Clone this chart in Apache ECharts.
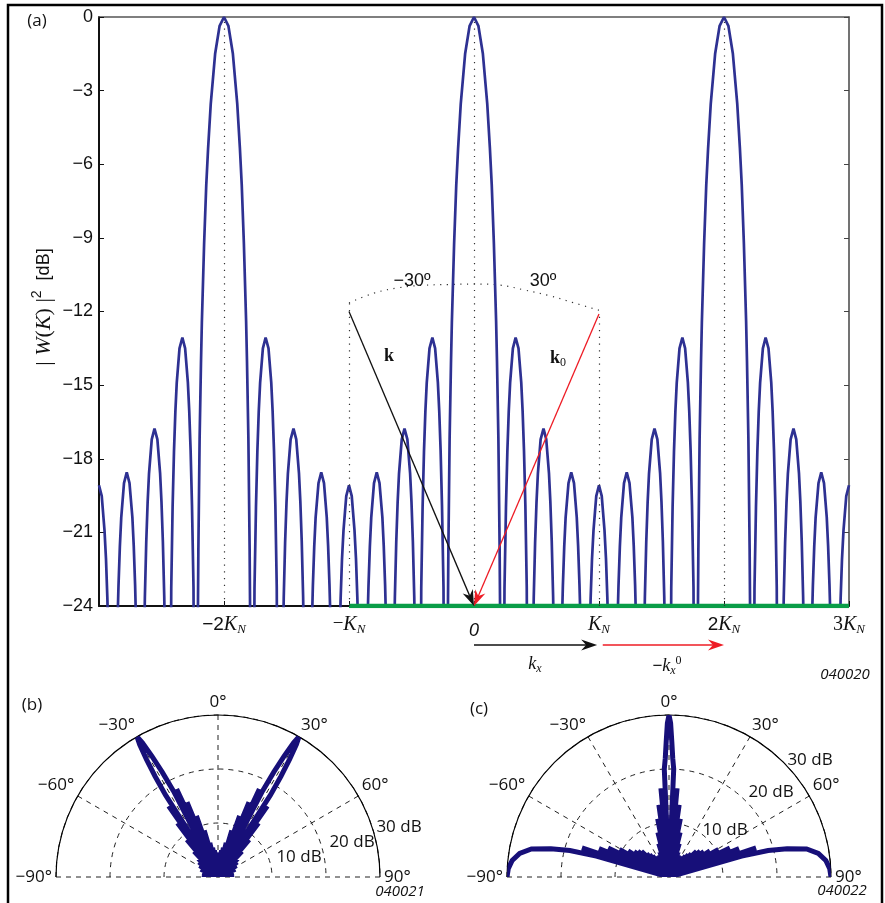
<!DOCTYPE html>
<html>
<head>
<meta charset="utf-8">
<script src="https://cdn.jsdelivr.net/npm/echarts@6/dist/echarts.min.js"></script>
<style>html,body{margin:0;padding:0;background:#fff}#c{width:885px;height:903px}</style>
</head>
<body>
<div id="c"></div>
<script>
// ---------- data ----------
// Panel (a): |W(K)|^2 in dB versus K (units of K_N); nulls listed deep, axis clips at -24 dB
const patternA = [
[-3.000,-19.08],[-2.978,-19.52],[-2.956,-20.92],[-2.944,-22.09],[-2.933,-23.70],[-2.922,-25.94],[-2.911,-29.28],[-2.889,-45],
[-2.867,-28.75],[-2.856,-25.41],[-2.844,-23.17],[-2.833,-21.56],[-2.822,-20.39],[-2.800,-18.99],[-2.778,-18.55],[-2.756,-18.99],[-2.733,-20.39],[-2.722,-21.56],[-2.711,-23.17],[-2.700,-25.41],[-2.689,-28.75],[-2.667,-45],
[-2.644,-26.97],[-2.633,-23.63],[-2.622,-21.39],[-2.611,-19.78],[-2.600,-18.61],[-2.578,-17.21],[-2.556,-16.77],[-2.533,-17.21],[-2.511,-18.61],[-2.500,-19.78],[-2.489,-21.39],[-2.478,-23.63],[-2.467,-26.97],[-2.444,-45],
[-2.422,-23.26],[-2.411,-19.92],[-2.400,-17.68],[-2.389,-16.07],[-2.378,-14.90],[-2.356,-13.50],[-2.333,-13.06],[-2.311,-13.50],[-2.289,-14.90],[-2.278,-16.07],[-2.267,-17.68],[-2.256,-19.92],[-2.244,-23.26],[-2.222,-45],
[-2.212,-26.5],[-2.205,-21.67],[-2.195,-17.15],[-2.184,-14.05],[-2.177,-12.42],[-2.159,-9.22],[-2.142,-6.85],[-2.127,-5.33],[-2.106,-3.54],[-2.071,-1.50],[-2.035,-0.36],[-2.000,0],[-1.965,-0.36],[-1.929,-1.50],[-1.894,-3.54],[-1.873,-5.33],[-1.858,-6.85],[-1.841,-9.22],[-1.823,-12.42],[-1.816,-14.05],[-1.805,-17.15],[-1.795,-21.67],[-1.788,-26.5],[-1.778,-45],
[-1.756,-23.26],[-1.744,-19.92],[-1.733,-17.68],[-1.722,-16.07],[-1.711,-14.90],[-1.689,-13.50],[-1.667,-13.06],[-1.644,-13.50],[-1.622,-14.90],[-1.611,-16.07],[-1.600,-17.68],[-1.589,-19.92],[-1.578,-23.26],[-1.556,-45],
[-1.533,-26.97],[-1.522,-23.63],[-1.511,-21.39],[-1.500,-19.78],[-1.489,-18.61],[-1.467,-17.21],[-1.444,-16.77],[-1.422,-17.21],[-1.400,-18.61],[-1.389,-19.78],[-1.378,-21.39],[-1.367,-23.63],[-1.356,-26.97],[-1.333,-45],
[-1.311,-28.75],[-1.300,-25.41],[-1.289,-23.17],[-1.278,-21.56],[-1.267,-20.39],[-1.244,-18.99],[-1.222,-18.55],[-1.200,-18.99],[-1.178,-20.39],[-1.167,-21.56],[-1.156,-23.17],[-1.144,-25.41],[-1.133,-28.75],[-1.111,-45],
[-1.089,-29.28],[-1.078,-25.94],[-1.067,-23.70],[-1.056,-22.09],[-1.044,-20.92],[-1.022,-19.52],[-1.000,-19.08],[-0.978,-19.52],[-0.956,-20.92],[-0.944,-22.09],[-0.933,-23.70],[-0.922,-25.94],[-0.911,-29.28],[-0.889,-45],
[-0.867,-28.75],[-0.856,-25.41],[-0.844,-23.17],[-0.833,-21.56],[-0.822,-20.39],[-0.800,-18.99],[-0.778,-18.55],[-0.756,-18.99],[-0.733,-20.39],[-0.722,-21.56],[-0.711,-23.17],[-0.700,-25.41],[-0.689,-28.75],[-0.667,-45],
[-0.644,-26.97],[-0.633,-23.63],[-0.622,-21.39],[-0.611,-19.78],[-0.600,-18.61],[-0.578,-17.21],[-0.556,-16.77],[-0.533,-17.21],[-0.511,-18.61],[-0.500,-19.78],[-0.489,-21.39],[-0.478,-23.63],[-0.467,-26.97],[-0.444,-45],
[-0.422,-23.26],[-0.411,-19.92],[-0.400,-17.68],[-0.389,-16.07],[-0.378,-14.90],[-0.356,-13.50],[-0.333,-13.06],[-0.311,-13.50],[-0.289,-14.90],[-0.278,-16.07],[-0.267,-17.68],[-0.256,-19.92],[-0.244,-23.26],[-0.222,-45],
[-0.212,-26.5],[-0.205,-21.67],[-0.195,-17.15],[-0.184,-14.05],[-0.177,-12.42],[-0.159,-9.22],[-0.142,-6.85],[-0.127,-5.33],[-0.106,-3.54],[-0.071,-1.50],[-0.035,-0.36],[0,0],[0.035,-0.36],[0.071,-1.50],[0.106,-3.54],[0.127,-5.33],[0.142,-6.85],[0.159,-9.22],[0.177,-12.42],[0.184,-14.05],[0.195,-17.15],[0.205,-21.67],[0.212,-26.5],[0.222,-45],
[0.244,-23.26],[0.256,-19.92],[0.267,-17.68],[0.278,-16.07],[0.289,-14.90],[0.311,-13.50],[0.333,-13.06],[0.356,-13.50],[0.378,-14.90],[0.389,-16.07],[0.400,-17.68],[0.411,-19.92],[0.422,-23.26],[0.444,-45],
[0.467,-26.97],[0.478,-23.63],[0.489,-21.39],[0.500,-19.78],[0.511,-18.61],[0.533,-17.21],[0.556,-16.77],[0.578,-17.21],[0.600,-18.61],[0.611,-19.78],[0.622,-21.39],[0.633,-23.63],[0.644,-26.97],[0.667,-45],
[0.689,-28.75],[0.700,-25.41],[0.711,-23.17],[0.722,-21.56],[0.733,-20.39],[0.756,-18.99],[0.778,-18.55],[0.800,-18.99],[0.822,-20.39],[0.833,-21.56],[0.844,-23.17],[0.856,-25.41],[0.867,-28.75],[0.889,-45],
[0.911,-29.28],[0.922,-25.94],[0.933,-23.70],[0.944,-22.09],[0.956,-20.92],[0.978,-19.52],[1.000,-19.08],[1.022,-19.52],[1.044,-20.92],[1.056,-22.09],[1.067,-23.70],[1.078,-25.94],[1.089,-29.28],[1.111,-45],
[1.133,-28.75],[1.144,-25.41],[1.156,-23.17],[1.167,-21.56],[1.178,-20.39],[1.200,-18.99],[1.222,-18.55],[1.244,-18.99],[1.267,-20.39],[1.278,-21.56],[1.289,-23.17],[1.300,-25.41],[1.311,-28.75],[1.333,-45],
[1.356,-26.97],[1.367,-23.63],[1.378,-21.39],[1.389,-19.78],[1.400,-18.61],[1.422,-17.21],[1.444,-16.77],[1.467,-17.21],[1.489,-18.61],[1.500,-19.78],[1.511,-21.39],[1.522,-23.63],[1.533,-26.97],[1.556,-45],
[1.578,-23.26],[1.589,-19.92],[1.600,-17.68],[1.611,-16.07],[1.622,-14.90],[1.644,-13.50],[1.667,-13.06],[1.689,-13.50],[1.711,-14.90],[1.722,-16.07],[1.733,-17.68],[1.744,-19.92],[1.756,-23.26],[1.778,-45],
[1.788,-26.5],[1.795,-21.67],[1.805,-17.15],[1.816,-14.05],[1.823,-12.42],[1.841,-9.22],[1.858,-6.85],[1.873,-5.33],[1.894,-3.54],[1.929,-1.50],[1.965,-0.36],[2.000,0],[2.035,-0.36],[2.071,-1.50],[2.106,-3.54],[2.127,-5.33],[2.142,-6.85],[2.159,-9.22],[2.177,-12.42],[2.184,-14.05],[2.195,-17.15],[2.205,-21.67],[2.212,-26.5],[2.222,-45],
[2.244,-23.26],[2.256,-19.92],[2.267,-17.68],[2.278,-16.07],[2.289,-14.90],[2.311,-13.50],[2.333,-13.06],[2.356,-13.50],[2.378,-14.90],[2.389,-16.07],[2.400,-17.68],[2.411,-19.92],[2.422,-23.26],[2.444,-45],
[2.467,-26.97],[2.478,-23.63],[2.489,-21.39],[2.500,-19.78],[2.511,-18.61],[2.533,-17.21],[2.556,-16.77],[2.578,-17.21],[2.600,-18.61],[2.611,-19.78],[2.622,-21.39],[2.633,-23.63],[2.644,-26.97],[2.667,-45],
[2.689,-28.75],[2.700,-25.41],[2.711,-23.17],[2.722,-21.56],[2.733,-20.39],[2.756,-18.99],[2.778,-18.55],[2.800,-18.99],[2.822,-20.39],[2.833,-21.56],[2.844,-23.17],[2.856,-25.41],[2.867,-28.75],[2.889,-45],
[2.911,-29.28],[2.922,-25.94],[2.933,-23.70],[2.944,-22.09],[2.956,-20.92],[2.978,-19.52],[3.000,-19.08]
];
const visibleRegion = [[-1,-24],[3,-24]];
const guideFull = [-2, 0, 2];
const guideSide = [[-1,-11.65],[1,-12.1]];
const arcPoints = [[-1,-11.65],[-0.8,-11.25],[-0.6,-11.03],[-0.4,-10.93],[-0.2,-10.9],[0,-10.88],[0.2,-10.92],[0.4,-11.12],[0.6,-11.35],[0.8,-11.65],[1,-11.95]];
const vectorK  = [[-1,-12.0,0,-24]];
const vectorK0 = [[1,-12.1,0,-24]];
const shiftKx  = [[0,0.5,0.985,0.5]];
const shiftK0  = [[1.03,0.5,2.0,0.5]];
const xTickValues = [-3,-2,-1,0,1,2,3];
const xTickLabels = ['', '{n|\u22122}{k|K}{s|N}', '{m|\u2212}{k|K}{s|N}', '{z|0}', '{k|K}{s|N}', '{n|2}{k|K}{s|N}', '{t|3}{k|K}{s|N}'];
const yTickValues = [-24,-21,-18,-15,-12,-9,-6,-3,0];
const yTickLabels = ['\u221224','\u221221','\u221218','\u221215','\u221212','\u22129','\u22126','\u22123','0'];

// Panels (b) and (c): [angle (deg), level above -30 dB (dB)]
const polarB = [
[-90,2.5],[-86,0],[-82,3],[-78,0],[-74,3],[-70,0],[-66,3.5],[-62,0],[-58.5,4],[-55,0],[-52,4.5],[-49.5,0],[-47,5],[-45,0],[-43,6.5],[-41.3,0],[-39.8,9],[-38.3,0],[-36.9,12.5],[-35.6,0],[-34.8,16],[-33.8,0],
[-32.6,18],[-32,22],[-31.3,25.5],[-30.6,28.5],[-30,30],[-29.4,28.5],[-28.7,25.5],[-28,22],[-27.4,18],[-26.2,0],
[-25.2,18],[-24,0],[-22.5,15],[-21,0],[-19.5,12],[-18,0],[-16.5,9],[-15,0],[-13.5,6.5],[-12,0],[-10.5,5.5],[-9,0],[-7.5,5],[-6,0],[-4.5,4.5],[-3,0],[-1.5,4.5],[0,0],
[1.5,4.5],[3,0],[4.5,4.5],[6,0],[7.5,5],[9,0],[10.5,5.5],[12,0],[13.5,6.5],[15,0],[16.5,9],[18,0],[19.5,12],[21,0],[22.5,15],[24,0],[25.2,18],[26.2,0],
[27.4,18],[28,22],[28.7,25.5],[29.4,28.5],[30,30],[30.6,28.5],[31.3,25.5],[32,22],[32.6,18],[33.8,0],
[34.8,16],[35.6,0],[36.9,12.5],[38.3,0],[39.8,9],[41.3,0],[43,6.5],[45,0],[47,5],[49.5,0],[52,4.5],[55,0],[58.5,4],[62,0],[66,3.5],[70,0],[74,3],[78,0],[82,3],[86,0],[90,2.5]
];
const polarC = [
[-90,30],[-87,29.8],[-84,29.2],[-81,28],[-78.5,26],[-76.5,22.5],[-75,19],[-74,14],[-73.2,0],
[-71.5,17],[-70,0],[-68,14],[-66.5,0],[-64.5,12.5],[-63,0],[-61,10.5],[-59.5,0],[-57.5,9],[-56,0],[-54,8],[-52.5,0],[-50.5,7.5],[-49,0],[-47,7],[-45.5,0],[-44,6],[-42.5,0],[-41,5.5],[-39.5,0],[-38,5],[-36.5,0],[-35,4.5],[-33.5,0],[-32,4],[-30.5,0],[-29,4],[-27.5,0],[-26,4],[-24.5,0],[-23,4.5],[-21.5,0],[-20,5],[-18.5,0],[-17,6.5],[-15.5,0],[-14,8.5],[-12.5,0],[-11,11],[-9.5,0],[-8,13.5],[-6.5,0],[-5.2,16.5],[-3.8,0],
[-2.5,20],[-1.8,22],[-1.2,25],[-0.6,28.5],[0,30],[0.6,28.5],[1.2,25],[1.8,22],[2.5,20],[3.8,0],
[5.2,16.5],[6.5,0],[8,13.5],[9.5,0],[11,11],[12.5,0],[14,8.5],[15.5,0],[17,6.5],[18.5,0],[20,5],[21.5,0],[23,4.5],[24.5,0],[26,4],[27.5,0],[29,4],[30.5,0],[32,4],[33.5,0],[35,4.5],[36.5,0],[38,5],[39.5,0],[41,5.5],[42.5,0],[44,6],[45.5,0],[47,7],[49,0],[50.5,7.5],[52.5,0],[54,8],[56,0],[57.5,9],[59.5,0],[61,10.5],[63,0],[64.5,12.5],[66.5,0],[68,14],[70,0],[71.5,17],[73.2,0],
[74,14],[75,19],[76.5,22.5],[78.5,26],[81,28],[84,29.2],[87,29.8],[90,30]
];

// ---------- chart ----------
const SERIF = 'Liberation Serif';
const SANS = 'Liberation Sans';
const HUM = 'Open Sans';
const INK = '#111';

const chart = echarts.init(document.getElementById('c'), null, {renderer: 'canvas', width: 885, height: 903});

function arrowRenderer(color) {
  return function (params, api) {
    const p1 = api.coord([api.value(0), api.value(1)]);
    const p2 = api.coord([api.value(2), api.value(3)]);
    const dx = p2[0] - p1[0], dy = p2[1] - p1[1];
    const len = Math.sqrt(dx * dx + dy * dy);
    const ux = dx / len, uy = dy / len, nx = -uy, ny = ux;
    const L = 16, W = 5.5, notch = 11;
    const back = [p2[0] - ux * L, p2[1] - uy * L];
    const mid = [p2[0] - ux * notch, p2[1] - uy * notch];
    return {
      type: 'group',
      children: [
        {type: 'line', shape: {x1: p1[0], y1: p1[1], x2: mid[0], y2: mid[1]}, style: {stroke: color, lineWidth: 1.3}},
        {type: 'polygon', shape: {points: [p2, [back[0] + nx * W, back[1] + ny * W], mid, [back[0] - nx * W, back[1] - ny * W]]}, style: {fill: color}}
      ]
    };
  };
}

function angleLabel(v) {
  return (v < 0 ? '\u2212' + (-v) : '' + v) + '\u00b0';
}

function polarAxes(idx) {
  return {
    angle: {
      polarIndex: idx, type: 'value', min: -90, max: 90, interval: 30,
      startAngle: 180, endAngle: 0, clockwise: true,
      axisLine: {show: true, lineStyle: {color: '#000', width: 1.2}},
      axisTick: {show: false},
      axisLabel: {show: true, formatter: angleLabel, margin: 4, fontSize: 17, fontFamily: HUM, color: INK},
      splitLine: {show: true, lineStyle: {type: [5, 5], color: '#222', width: 1}}
    },
    radius: {
      polarIndex: idx, type: 'value', min: 0, max: 30, interval: 10,
      axisLine: {show: false}, axisTick: {show: false}, axisLabel: {show: false},
      splitLine: {show: true, lineStyle: {type: [5, 5], color: '#222', width: 1}}
    }
  };
}
const pb = polarAxes(0), pc = polarAxes(1);

function txt(text, x, y, font, extra) {
  return {type: 'text', x: x, y: y, z: 50, style: Object.assign({text: text, font: font, fill: INK, align: 'center', verticalAlign: 'middle'}, extra || {})};
}

const subRich = {
  i: {fontFamily: SERIF, fontStyle: 'italic', fontSize: 18, fill: INK},
  b: {fontFamily: SERIF, fontWeight: 'bold', fontSize: 18, fill: INK},
  m: {fontFamily: SANS, fontSize: 17, fill: INK},
  s: {fontFamily: SERIF, fontStyle: 'italic', fontSize: 12, fill: INK, padding: [10, 0, 0, 0]},
  s0: {fontFamily: SERIF, fontSize: 12, fill: INK, padding: [10, 0, 0, 0]},
  p: {fontFamily: SERIF, fontSize: 12, fill: INK, padding: [0, 0, 10, 0]}
};
const nameRich = {
  r: {fontFamily: SERIF, fontSize: 22, fill: INK},
  i: {fontFamily: SERIF, fontStyle: 'italic', fontSize: 22, fill: INK},
  p: {fontFamily: SANS, fontSize: 14, fill: INK, padding: [0, 0, 14, 0]},
  d: {fontFamily: SANS, fontSize: 18, fill: INK}
};

const option = {
  animation: false,
  backgroundColor: '#fff',
  grid: [
    {left: 99, top: 17, width: 750, height: 589},
    {left: 99, top: 640, width: 750, height: 10}
  ],
  xAxis: [
    {gridIndex: 0, type: 'value', min: -3, max: 3, interval: 1, position: 'bottom',
     axisLine: {show: true, onZero: false, lineStyle: {color: INK, width: 2}},
     axisTick: {show: true, inside: true, length: 5, lineStyle: {color: INK, width: 1}},
     axisLabel: {show: true, margin: 7, color: INK,
       formatter: function (v) { const i = xTickValues.indexOf(Math.round(v)); return i >= 0 ? xTickLabels[i] : ''; },
       rich: {
         n: {fontFamily: SANS, fontSize: 19, color: INK},
         t: {fontFamily: SERIF, fontSize: 20, color: INK},
         m: {fontFamily: SERIF, fontSize: 19, color: INK},
         k: {fontFamily: SERIF, fontStyle: 'italic', fontSize: 20, color: INK},
         s: {fontFamily: SERIF, fontStyle: 'italic', fontSize: 13, color: INK, padding: [10, 0, 0, 0]},
         z: {fontFamily: SANS, fontStyle: 'italic', fontSize: 18, color: INK, padding: [9, 0, 0, 0]}
       }},
     splitLine: {show: false}},
    {gridIndex: 0, type: 'value', min: -3, max: 3, position: 'top',
     axisLine: {show: true, onZero: false, lineStyle: {color: '#555', width: 1.5}},
     axisTick: {show: false}, axisLabel: {show: false}, splitLine: {show: false}},
    {gridIndex: 1, type: 'value', min: -3, max: 3, show: false}
  ],
  yAxis: [
    {gridIndex: 0, type: 'value', min: -24, max: 0, interval: 3,
     axisLine: {show: true, onZero: false, lineStyle: {color: INK, width: 2}},
     axisTick: {show: true, inside: true, length: 5, lineStyle: {color: INK, width: 1}},
     axisLabel: {show: true, margin: 6, fontSize: 18, fontFamily: SANS, color: INK,
       formatter: function (v) { const i = yTickValues.indexOf(Math.round(v)); return i >= 0 ? yTickLabels[i] : ''; }},
     splitLine: {show: false}},
    {gridIndex: 0, type: 'value', min: -24, max: 0, interval: 3, position: 'right',
     axisLine: {show: true, onZero: false, lineStyle: {color: '#444', width: 1.5}},
     axisTick: {show: true, inside: true, length: 5, lineStyle: {color: '#444', width: 1}},
     axisLabel: {show: false}, splitLine: {show: false}},
    {gridIndex: 1, type: 'value', min: 0, max: 1, show: false}
  ],
  polar: [
    {center: [218, 877], radius: 162},
    {center: [669, 877], radius: 162}
  ],
  angleAxis: [pb.angle, pc.angle],
  radiusAxis: [pb.radius, pc.radius],
  series: [
    {type: 'line', xAxisIndex: 0, yAxisIndex: 0, data: [], symbol: 'none', silent: true,
     markLine: {silent: true, symbol: ['none', 'none'], label: {show: false}, emphasis: {disabled: true},
       lineStyle: {type: [1.2, 5.5], color: '#333', width: 1.2},
       data: guideFull.map(function (x) { return [{coord: [x, -24]}, {coord: [x, 0]}]; })
         .concat(guideSide.map(function (p) { return [{coord: [p[0], -24]}, {coord: p}]; }))}},
    {type: 'line', xAxisIndex: 0, yAxisIndex: 0, data: arcPoints, smooth: 0.4, symbol: 'none', silent: true,
     lineStyle: {type: [1.2, 5.5], color: '#333', width: 1.2}, z: 2},
    {type: 'line', xAxisIndex: 0, yAxisIndex: 0, data: patternA, symbol: 'none', silent: true, clip: true,
     lineStyle: {color: '#2e3192', width: 2.7}, z: 3},
    {type: 'line', xAxisIndex: 0, yAxisIndex: 0, data: visibleRegion, symbol: 'none', silent: true,
     lineStyle: {color: '#0a9d48', width: 4.5}, z: 4},
    {type: 'custom', xAxisIndex: 0, yAxisIndex: 0, data: vectorK, renderItem: arrowRenderer('#111'), silent: true, z: 6},
    {type: 'custom', xAxisIndex: 0, yAxisIndex: 0, data: vectorK0, renderItem: arrowRenderer('#ee1c25'), silent: true, z: 6},
    {type: 'custom', xAxisIndex: 2, yAxisIndex: 2, data: shiftKx, renderItem: arrowRenderer('#111'), silent: true, z: 6},
    {type: 'custom', xAxisIndex: 2, yAxisIndex: 2, data: shiftK0, renderItem: arrowRenderer('#ee1c25'), silent: true, z: 6},
    {type: 'line', coordinateSystem: 'polar', polarIndex: 0, data: polarB.map(function (p) { return [p[1], p[0]]; }),
     symbol: 'none', silent: true, clip: false, lineStyle: {color: '#170f79', width: 5, join: 'miter', miterLimit: 3}, z: 5},
    {type: 'line', coordinateSystem: 'polar', polarIndex: 1, data: polarC.map(function (p) { return [p[1], p[0]]; }),
     symbol: 'none', silent: true, clip: false, lineStyle: {color: '#170f79', width: 5, join: 'miter', miterLimit: 3}, z: 5}
  ],
  graphic: [
    {type: 'rect', z: 60, shape: {x: 8, y: 5, width: 874, height: 930}, style: {fill: 'transparent', stroke: '#000', lineWidth: 2.5}},
    {type: 'text', x: 44, y: 307, rotation: Math.PI / 2, z: 50,
     style: {text: '{r|| }{i|W}{r|(}{i|K}{r|) |}{p|2}{d|  [dB]}', rich: nameRich, align: 'center', verticalAlign: 'middle', fill: INK}},
    txt('(a)', 37, 21, '17px ' + HUM),
    txt('(b)', 32, 705, '17px ' + HUM),
    txt('(c)', 479, 709, '17px ' + HUM),
    txt('040020', 845, 675, 'italic 15px ' + HUM),
    txt('040021', 400, 892, 'italic 15px ' + HUM),
    txt('040022', 842, 891, 'italic 15px ' + HUM),
    txt('\u221230\u00ba', 412, 281, '18px ' + SANS),
    txt('30\u00ba', 543, 281, '18px ' + SANS),
    txt('k', 389, 356, 'bold 18px ' + SERIF),
    txt('{b|k}{s0|0}', 558, 358, '18px ' + SERIF, {rich: subRich}),
    txt('{i|k}{s|x}', 535, 664, '18px ' + SERIF, {rich: subRich}),
    txt('{m|\u2212}{i|k}{s|x}{p|0}', 667, 666, '18px ' + SERIF, {rich: subRich}),
    txt('10 dB', 299, 857, '17px ' + HUM),
    txt('20 dB', 352, 842, '17px ' + HUM),
    txt('30 dB', 399, 827, '17px ' + HUM),
    txt('10 dB', 725, 830, '17px ' + HUM),
    txt('20 dB', 771, 792, '17px ' + HUM),
    txt('30 dB', 810, 760, '17px ' + HUM)
  ]
};
chart.setOption(option);
</script>
</body>
</html>
